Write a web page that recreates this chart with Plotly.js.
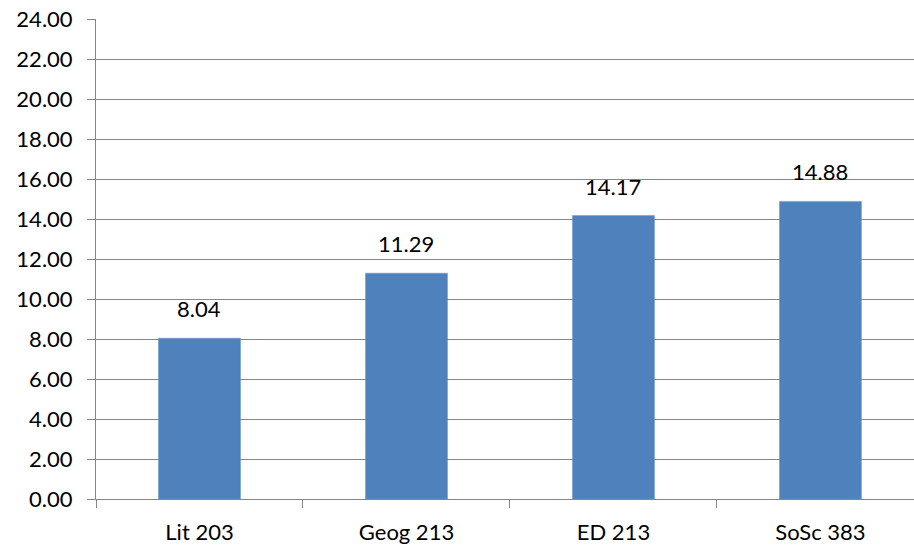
<!DOCTYPE html>
<html>
<head>
<meta charset="utf-8">
<script src="https://cdn.plot.ly/plotly-3.0.1.min.js"></script>
<style>
  html, body { margin: 0; padding: 0; background: #ffffff; }
  #chart { width: 914px; height: 545px; }
</style>
</head>
<body>
<div id="chart"></div>
<script>
// Course codes and their mean scores
const courses = ["Lit 203", "Geog 213", "ED 213", "SoSc 383"];
const scores = [8.04, 11.29, 14.17, 14.88];
const yTicks = [0, 2, 4, 6, 8, 10, 12, 14, 16, 18, 20, 22, 24];

const barColor = "#4F81BD";
const gridColor = "#868686";
const font = { family: "Lato, 'Open Sans', sans-serif", size: 22, color: "#000000" };

const trace = {
  type: "bar",
  x: courses,
  y: scores,
  marker: { color: barColor, line: { color: "#6F9AD0", width: 0.6 } },
  width: 0.396,
  hoverinfo: "skip"
};

// Value labels above each bar
const labels = courses.map((c, i) => ({
  x: c,
  y: scores[i],
  text: scores[i].toFixed(2),
  showarrow: false,
  xanchor: "center",
  yanchor: "bottom",
  yshift: 14,
  font: font
}));

const layout = {
  width: 914,
  height: 545,
  margin: { l: 96, r: 0, t: 19, b: 46, pad: 0 },
  paper_bgcolor: "#ffffff",
  plot_bgcolor: "#ffffff",
  font: font,
  showlegend: false,
  xaxis: {
    type: "category",
    range: [-0.5, 3.452],
    tickson: "boundaries",
    ticks: "outside",
    ticklen: 8,
    tickwidth: 1,
    tickcolor: gridColor,
    showline: true,
    linecolor: gridColor,
    linewidth: 1,
    showgrid: false,
    zeroline: false,
    ticklabelstandoff: 14,
    tickfont: font,
    fixedrange: true
  },
  yaxis: {
    range: [0, 24],
    tickmode: "array",
    tickvals: yTicks,
    ticktext: yTicks.map(v => v.toFixed(2)),
    ticks: "outside",
    ticklen: 8,
    tickwidth: 1,
    tickcolor: gridColor,
    showline: true,
    linecolor: gridColor,
    linewidth: 1,
    showgrid: true,
    gridcolor: gridColor,
    gridwidth: 1,
    zeroline: false,
    ticklabelstandoff: 10,
    tickfont: font,
    fixedrange: true
  },
  annotations: labels
};

Plotly.newPlot("chart", [trace], layout, { staticPlot: true, displayModeBar: false });
</script>
</body>
</html>
